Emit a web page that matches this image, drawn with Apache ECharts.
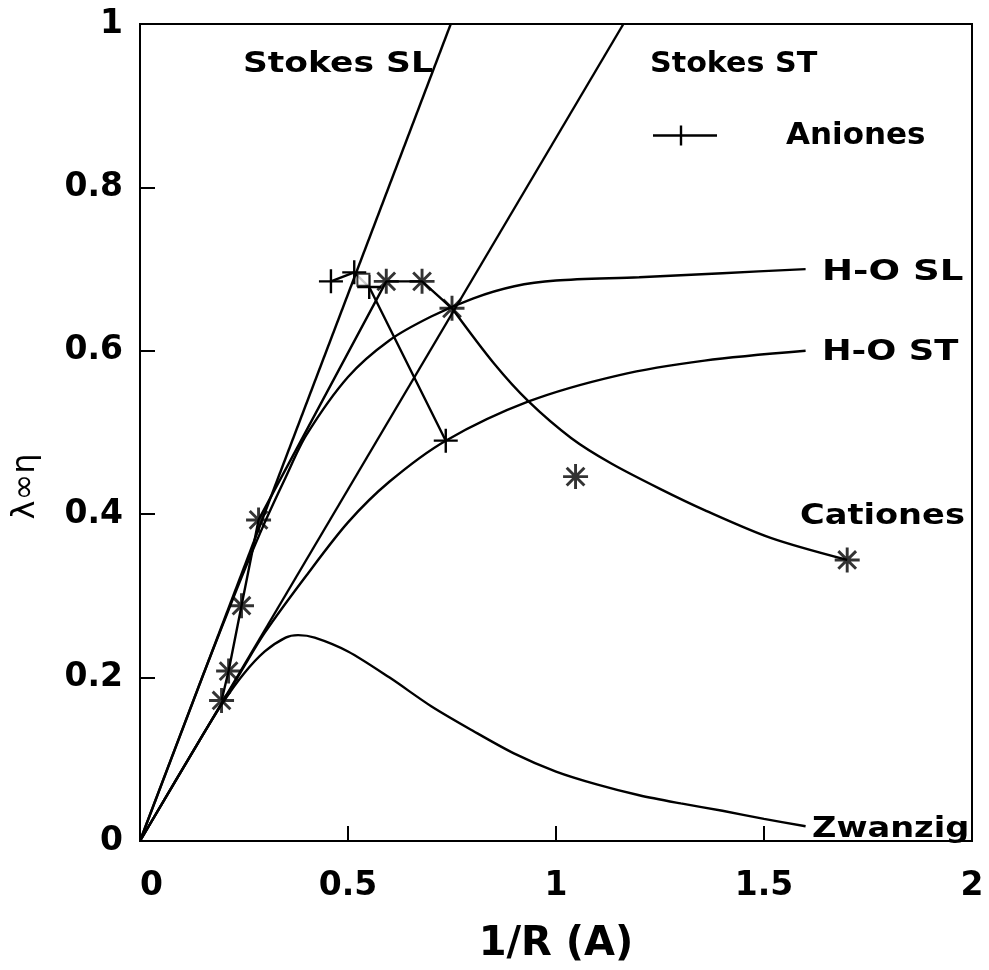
<!DOCTYPE html>
<html>
<head>
<meta charset="utf-8">
<script src="https://cdn.jsdelivr.net/npm/echarts@6/dist/echarts.min.js"></script>
<style>
  html, body { margin: 0; padding: 0; background: #fff; }
  #chart { width: 989px; height: 970px; }
</style>
</head>
<body>
<div id="chart"></div>
<script>
// Axis ticks
const xTicks = [0, 0.5, 1, 1.5, 2];
const yTicks = [0, 0.2, 0.4, 0.6, 0.8, 1];

// Stokes limits (straight lines through the origin)
const stokesSL = [[0, 0], [0.747, 1]];
const stokesST = [[0, 0], [1.162, 1]];

// Hubbard-Onsager curves
const hoSL = [[0, 0], [0.15, 0.201], [0.2, 0.266], [0.25, 0.33], [0.3, 0.39], [0.35, 0.445],
  [0.4, 0.497], [0.5, 0.568], [0.6, 0.613], [0.7, 0.642], [0.8, 0.664], [0.9, 0.679],
  [1.0, 0.686], [1.2, 0.690], [1.4, 0.695], [1.6, 0.700]];
const hoST = [[0, 0], [0.15, 0.129], [0.24, 0.205], [0.3, 0.255], [0.4, 0.325], [0.5, 0.39],
  [0.6, 0.44], [0.735, 0.49], [0.934, 0.538], [1.15, 0.57], [1.357, 0.588], [1.6, 0.600]];

// Zwanzig model
const zwanzig = [[0, 0], [0.15, 0.129], [0.2, 0.17], [0.25, 0.205], [0.3, 0.232], [0.35, 0.249],
  [0.38, 0.252], [0.42, 0.249], [0.5, 0.232], [0.6, 0.2], [0.7, 0.165], [0.8, 0.135],
  [0.9, 0.107], [1.0, 0.085], [1.1, 0.069], [1.2, 0.056], [1.3, 0.046], [1.4, 0.037],
  [1.5, 0.027], [1.6, 0.018]];

// Anions (measured)
const aniones = [[0.459, 0.685], [0.515, 0.696], [0.551, 0.678], [0.735, 0.490]];
const anionBox = [[0.537, 0.687]];

// Cations: measured points, the segments joining the small ions, and the fitted trend
const cationesPts = [[0.196, 0.172], [0.213, 0.208], [0.244, 0.288], [0.285, 0.393],
  [0.592, 0.685], [0.678, 0.685], [0.75, 0.652], [1.047, 0.446], [1.70, 0.344]];
const cationesJoin = [[0.196, 0.172], [0.213, 0.208], [0.244, 0.288], [0.285, 0.393],
  [0.592, 0.685], [0.678, 0.685], [0.75, 0.652]];
const cationesFit = [[0.75, 0.652], [0.85, 0.585], [0.934, 0.538], [1.037, 0.493],
  [1.133, 0.462], [1.25, 0.431], [1.357, 0.405], [1.516, 0.371], [1.70, 0.344]];

// Marker shapes: eight-ray asterisk and plus
const STAR = 'path://M0,10.6h24v2.8h-24z M10.6,0h2.8v24h-2.8z M2.5,4.5L4.5,2.5L21.5,19.5L19.5,21.5Z M19.5,2.5L21.5,4.5L4.5,21.5L2.5,19.5Z';
const PLUS = 'path://M0,10.8h24v2.4h-24z M10.8,0h2.4v24h-2.4z';
const PLUS_KEY = 'path://M0,8.8h64v2.4h-64z M26.8,0h2.4v20h-2.4z';

const FONT = '"DejaVu Sans", "Liberation Sans", sans-serif';
const BLACK = '#000';
const LW = 2.4;

function curve(name, data, smooth) {
  return {
    name, type: 'line', data, smooth: smooth ? 0.3 : false,
    symbol: 'none', lineStyle: { color: BLACK, width: LW }, silent: true, z: 2
  };
}

// Annotation labels
const notes = [
  { text: 'Stokes SL', x: 243, y: 64, sx: 1.19 },
  { text: 'Stokes ST', x: 650, y: 64, sx: 1.04 },
  { text: 'H-O SL', x: 822, y: 272, sx: 1.28 },
  { text: 'H-O ST', x: 822, y: 352, sx: 1.22 },
  { text: 'Cationes', x: 800, y: 516, sx: 1.16 },
  { text: 'Zwanzig', x: 812, y: 829, sx: 1.16 }
];

const chart = echarts.init(document.getElementById('chart'), null, { renderer: 'canvas' });
chart.setOption({
  animation: false,
  backgroundColor: '#fff',
  grid: { left: 140, right: 17, top: 24, bottom: 123, show: true, borderColor: BLACK, borderWidth: 2, backgroundColor: 'transparent' },
  xAxis: {
    type: 'value', min: xTicks[0], max: xTicks[xTicks.length - 1], interval: 0.5,
    name: '1/R (A)', nameLocation: 'middle', nameGap: 84,
    nameTextStyle: { fontFamily: FONT, fontWeight: 'bold', fontSize: 40, color: BLACK },
    axisLine: { lineStyle: { color: BLACK, width: 2 } },
    axisTick: { inside: true, length: 15, lineStyle: { color: BLACK, width: 2 } },
    axisLabel: { margin: 29, fontFamily: FONT, fontWeight: 'bold', fontSize: 33, color: BLACK, alignMinLabel: 'left' },
    splitLine: { show: false }
  },
  yAxis: {
    type: 'value', min: yTicks[0], max: yTicks[yTicks.length - 1], interval: 0.2,
    name: 'λ∞η', nameLocation: 'middle', nameGap: 98, nameRotate: 90,
    nameTextStyle: { fontFamily: FONT, fontSize: 32, color: BLACK, padding: [0, 108, 0, 0] },
    axisLine: { lineStyle: { color: BLACK, width: 2 } },
    axisTick: { inside: true, length: 15, lineStyle: { color: BLACK, width: 2 } },
    axisLabel: { margin: 17, fontFamily: FONT, fontWeight: 'bold', fontSize: 33, color: BLACK },
    splitLine: { show: false }
  },
  legend: {
    left: 648, top: 115, selectedMode: false, itemWidth: 64, itemHeight: 20,
    data: [{ name: 'Aniones', icon: PLUS_KEY, itemStyle: { color: BLACK } }],
    formatter: '{g|}{t|Aniones}',
    textStyle: {
      color: BLACK,
      rich: {
        g: { width: 64 },
        t: { fontFamily: FONT, fontWeight: 'bold', fontSize: 31, color: BLACK }
      }
    }
  },
  graphic: notes.map(n => ({
    type: 'text', x: n.x, y: n.y, scaleX: n.sx, silent: true,
    style: { text: n.text, fill: BLACK, font: 'bold 29px ' + FONT, textAlign: 'left', textVerticalAlign: 'middle' }
  })),
  series: [
    curve('Stokes SL', stokesSL, false),
    curve('Stokes ST', stokesST, false),
    curve('H-O SL', hoSL, true),
    curve('H-O ST', hoST, true),
    curve('Zwanzig', zwanzig, true),
    curve('Cationes', cationesJoin, false),
    curve('Cationes fit', cationesFit, true),
    {
      name: 'Aniones', type: 'line', data: aniones, symbol: PLUS, symbolSize: 24,
      showAllSymbol: true, itemStyle: { color: BLACK }, lineStyle: { color: BLACK, width: LW }, z: 3
    },
    {
      name: 'anion box', type: 'scatter', data: anionBox, symbol: 'emptyRect', symbolSize: 12,
      itemStyle: { color: BLACK, borderColor: BLACK, borderWidth: 2 }, z: 3
    },
    {
      name: 'Cationes pts', type: 'scatter', data: cationesPts, symbol: STAR, symbolSize: 25,
      itemStyle: { color: BLACK }, z: 4
    }
  ]
});
</script>
</body>
</html>
